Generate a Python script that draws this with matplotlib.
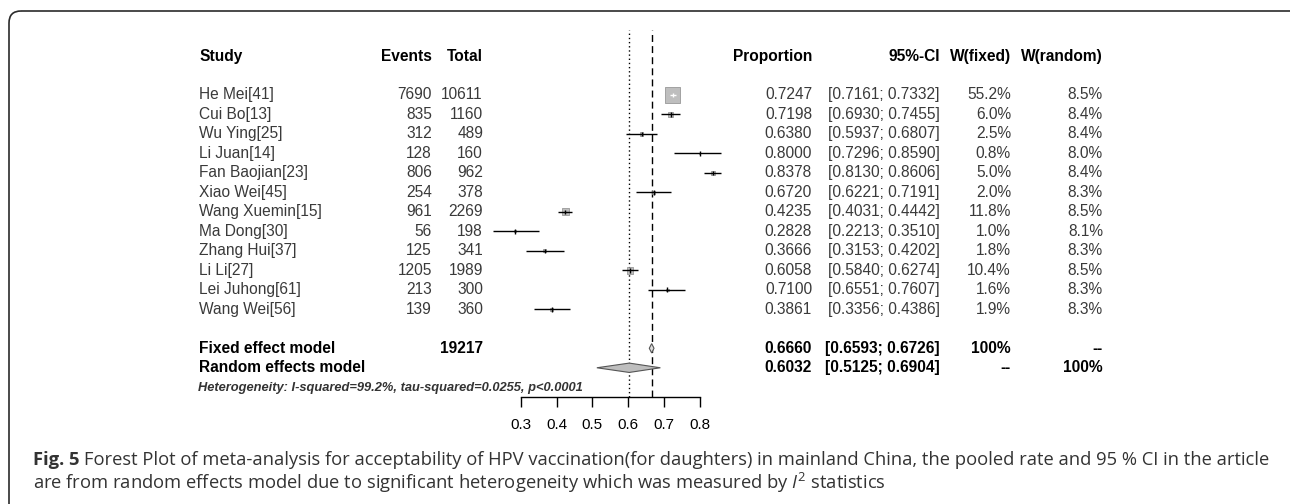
import numpy as np
import matplotlib
matplotlib.use('Agg')
import matplotlib.pyplot as plt
from matplotlib.patches import FancyBboxPatch
from matplotlib.transforms import blended_transform_factory

# Dados do forest plot
estudos = ['He Mei[41]', 'Cui Bo[13]', 'Wu Ying[25]', 'Li Juan[14]', 'Fan Baojian[23]',
           'Xiao Wei[45]', 'Wang Xuemin[15]', 'Ma Dong[30]', 'Zhang Hui[37]', 'Li Li[27]',
           'Lei Juhong[61]', 'Wang Wei[56]']
eventos = [7690, 835, 312, 128, 806, 254, 961, 56, 125, 1205, 213, 139]
totais = [10611, 1160, 489, 160, 962, 378, 2269, 198, 341, 1989, 300, 360]
proporcao = [0.7247, 0.7198, 0.6380, 0.8000, 0.8378, 0.6720, 0.4235, 0.2828, 0.3666, 0.6058, 0.7100, 0.3861]
ic_inf = [0.7161, 0.6930, 0.5937, 0.7296, 0.8130, 0.6221, 0.4031, 0.2213, 0.3153, 0.5840, 0.6551, 0.3356]
ic_sup = [0.7332, 0.7455, 0.6807, 0.8590, 0.8606, 0.7191, 0.4442, 0.3510, 0.4202, 0.6274, 0.7607, 0.4386]
peso_fixo = [55.2, 6.0, 2.5, 0.8, 5.0, 2.0, 11.8, 1.0, 1.8, 10.4, 1.6, 1.9]
peso_aleat = [8.5, 8.4, 8.4, 8.0, 8.4, 8.3, 8.5, 8.1, 8.3, 8.5, 8.3, 8.3]

# Modelos combinados: [fixo, aleatório]
modelos = ['Fixed effect model', 'Random effects model']
total_geral = 19217
prop_mod = [0.6660, 0.6032]
inf_mod = [0.6593, 0.5125]
sup_mod = [0.6726, 0.6904]
peso_fixo_mod = ['100%', '--']
peso_aleat_mod = ['--', '100%']
heterogeneidade = 'Heterogeneity: I-squared=99.2%, tau-squared=0.0255, p<0.0001'
ticks = [0.3, 0.4, 0.5, 0.6, 0.7, 0.8]

plt.rcParams['font.family'] = ['Liberation Sans', 'DejaVu Sans']
plt.rcParams['mathtext.fontset'] = 'custom'
plt.rcParams['mathtext.it'] = 'Open Sans:italic'
plt.rcParams['mathtext.rm'] = 'Open Sans'

W, H = 1290, 504
fig = plt.figure(figsize=(W / 100, H / 100), dpi=100)

# Eixo de fundo em pixels (moldura e legenda)
fundo = fig.add_axes([0, 0, 1, 1])
fundo.set_xlim(0, W)
fundo.set_ylim(H, 0)
fundo.axis('off')
fundo.add_patch(FancyBboxPatch((9, 11), 1300, 520, boxstyle='round,pad=0,rounding_size=12',
                               fill=False, ec='#2b2b2b', lw=1.2))

# Eixo do forest plot: x em proporção, y em linhas
x0_px, esc = 521, 357.0  # pixel de 0.3 e pixels por unidade
xl = (0.2, 0.9)
left = (x0_px + (xl[0] - 0.3) * esc) / W
width = (xl[1] - xl[0]) * esc / W
y_top, y_bot = 29.7, 397
ax = fig.add_axes([left, 1 - y_bot / H, width, (y_bot - y_top) / H])
ax.set_xlim(*xl)
ax.set_ylim(15.5, -3.35)
ax.patch.set_alpha(0)
for s in ['top', 'right', 'left']:
    ax.spines[s].set_visible(False)
ax.spines['bottom'].set_bounds(ticks[0], ticks[-1])
ax.spines['bottom'].set_linewidth(1.0)
ax.set_xticks(ticks)
ax.set_xticklabels([f'{t:.1f}' for t in ticks], fontsize=11)
ax.tick_params(axis='x', length=7, width=1.0, pad=8)
ax.set_yticks([])

n = len(estudos)
linhas = np.arange(n)

# Linhas verticais dos modelos
ax.axvline(prop_mod[1], color='black', lw=1.0, ls=(0, (1, 2)))
ax.axvline(prop_mod[0], color='black', lw=1.0, ls=(0, (5, 3)))

# Quadrados e intervalos de confiança
pesos = np.array(peso_fixo)
lado_pt = 11.0 * np.sqrt(pesos / pesos.max())
ax.scatter(proporcao, linhas, marker='s', s=lado_pt ** 2, c='#bebebe',
           edgecolors='#8a8a8a', linewidths=0.5, zorder=3)
for i in range(n):
    largura_px = (ic_sup[i] - ic_inf[i]) * esc
    cor = 'white' if largura_px < lado_pt[i] / 0.72 else 'black'
    ax.hlines(i, ic_inf[i], ic_sup[i], color=cor, lw=1.0, zorder=4)
    ax.vlines(proporcao[i], i - 0.12, i + 0.12, color=cor, lw=1.0, zorder=4)

# Losangos dos modelos
for k, (p, lo, hi) in enumerate(zip(prop_mod, inf_mod, sup_mod)):
    yk = 13 + k
    ax.fill([lo, p, hi, p], [yk, yk - 0.24, yk, yk + 0.24], fc='#bebebe' if k else '#dddddd',
            ec='#555555', lw=0.8, zorder=3)

# Colunas de texto
tr = blended_transform_factory(fig.transFigure, ax.transData)
cor_txt = '#3a3a3a'
fs = 11.2


def col(x_px, y, s, ha='right', bold=False, cor=cor_txt):
    ax.text(x_px / W, y, s, transform=tr, ha=ha, va='center', fontsize=fs,
            fontweight='bold' if bold else 'normal', color=cor)


cabecalho = [(199, 'Study', 'left'), (432, 'Events', 'right'), (483, 'Total', 'right'),
             (812, 'Proportion', 'right'), (940, '95%-CI', 'right'),
             (1011, 'W(fixed)', 'right'), (1103, 'W(random)', 'right')]
for x, s, ha in cabecalho:
    col(x, -2, s, ha=ha, bold=True, cor='black')

for i in range(n):
    col(199, i, estudos[i], ha='left')
    col(432, i, str(eventos[i]))
    col(483, i, str(totais[i]))
    col(812, i, f'{proporcao[i]:.4f}')
    col(940, i, f'[{ic_inf[i]:.4f}; {ic_sup[i]:.4f}]')
    col(1011, i, f'{peso_fixo[i]:.1f}%')
    col(1103, i, f'{peso_aleat[i]:.1f}%')

for k in range(2):
    yk = 13 + k
    col(199, yk, modelos[k], ha='left', bold=True, cor='black')
    if k == 0:
        col(483, yk, str(total_geral), bold=True, cor='black')
    col(812, yk, f'{prop_mod[k]:.4f}', bold=True, cor='black')
    col(940, yk, f'[{inf_mod[k]:.4f}; {sup_mod[k]:.4f}]', bold=True, cor='black')
    col(1011, yk, peso_fixo_mod[k], bold=True, cor='black')
    col(1103, yk, peso_aleat_mod[k], bold=True, cor='black')

ax.text(198 / W, 15.05, heterogeneidade, transform=tr, ha='left', va='center', fontsize=9.3,
        fontweight='bold', fontstyle='italic', color='#333333')

# Legenda da figura
fs_leg = 13.2
cor_leg = '#333333'
t1 = fundo.text(33, 460, 'Fig. 5', fontsize=fs_leg, fontweight='bold', family='Open Sans',
                color=cor_leg, va='center', ha='left')
fig.canvas.draw()
bb = t1.get_window_extent()
fundo.text(33 + bb.width + 5, 460,
           'Forest Plot of meta-analysis for acceptability of HPV vaccination(for daughters) '
           'in mainland China, the pooled rate and 95 % CI in the article',
           fontsize=fs_leg, family='Open Sans', color=cor_leg, va='center', ha='left')
fundo.text(33, 483, 'are from random effects model due to significant heterogeneity which '
           r'was measured by $I^2$ statistics',
           fontsize=fs_leg, family='Open Sans', color=cor_leg, va='center', ha='left')

fig.savefig('out.png', dpi=100)
